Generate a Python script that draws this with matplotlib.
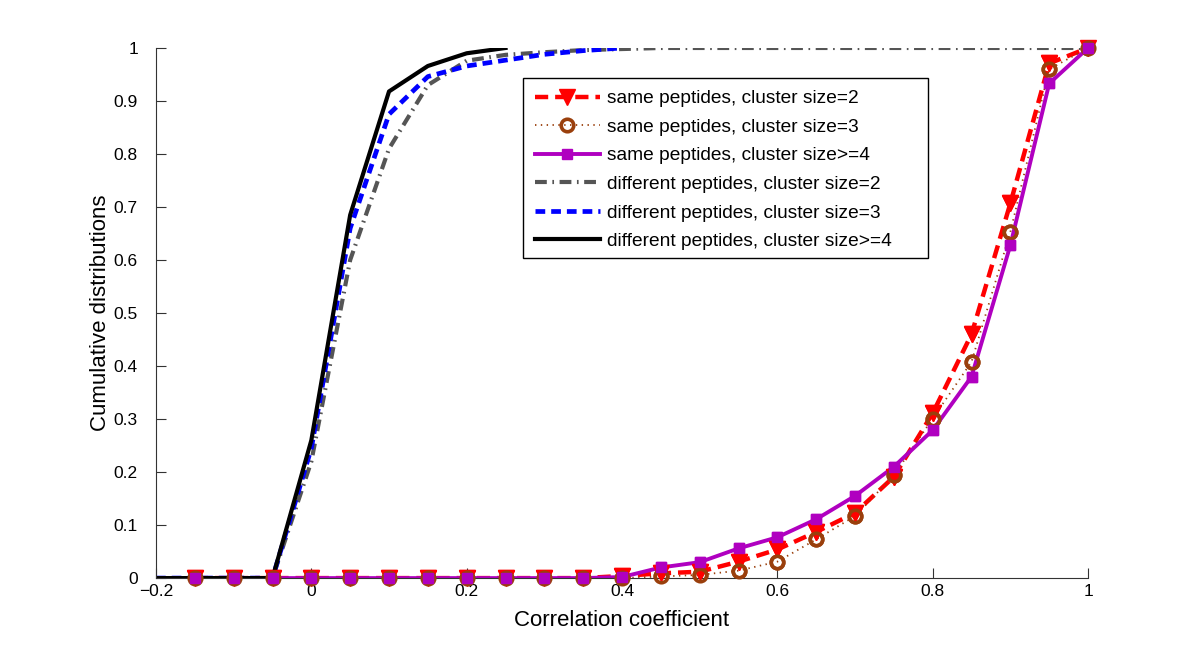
import matplotlib
matplotlib.use('Agg')
import matplotlib.pyplot as plt
from matplotlib.patches import Rectangle
import numpy as np

plt.rcParams['font.family'] = ['Liberation Sans', 'DejaVu Sans']
plt.rcParams['lines.scale_dashes'] = False

# correlation coefficient bins
x_same = [-0.15, -0.1, -0.05, 0, 0.05, 0.1, 0.15, 0.2, 0.25, 0.3, 0.35,
          0.4, 0.45, 0.5, 0.55, 0.6, 0.65, 0.7, 0.75, 0.8, 0.85, 0.9, 0.95, 1.0]

same2 = [0, 0, 0, 0, 0, 0, 0, 0, 0, 0, 0,
         0.004, 0.009, 0.012, 0.031, 0.054, 0.087, 0.123, 0.191, 0.311, 0.46, 0.707, 0.971, 1.0]
same3 = [0, 0, 0, 0, 0, 0, 0, 0, 0, 0, 0,
         0.0, 0.003, 0.006, 0.014, 0.031, 0.073, 0.117, 0.194, 0.301, 0.408, 0.653, 0.96, 1.0]
same4 = [0, 0, 0, 0, 0, 0, 0, 0, 0, 0, 0,
         0.002, 0.02, 0.03, 0.056, 0.077, 0.111, 0.155, 0.21, 0.279, 0.38, 0.628, 0.933, 1.0]

x_diff2 = [-0.2, -0.15, -0.1, -0.05, 0, 0.05, 0.1, 0.15, 0.2, 0.25, 0.3, 0.35, 0.4,
           0.45, 0.5, 0.55, 0.6, 0.65, 0.7, 0.75, 0.8, 0.85, 0.9, 0.95, 1.0]
diff2 = [0, 0, 0, 0, 0.22, 0.6, 0.81, 0.93, 0.976, 0.987, 0.992, 0.996, 0.998,
         1, 1, 1, 1, 1, 1, 1, 1, 1, 1, 1, 1]

x_diff3 = [-0.2, -0.15, -0.1, -0.05, 0, 0.05, 0.1, 0.15, 0.2, 0.25, 0.3, 0.35, 0.4]
diff3 = [0, 0, 0, 0, 0.245, 0.66, 0.875, 0.946, 0.966, 0.977, 0.988, 0.995, 1.0]

x_diff4 = [-0.2, -0.15, -0.1, -0.05, 0, 0.05, 0.1, 0.15, 0.2, 0.25]
diff4 = [0, 0, 0, 0, 0.26, 0.685, 0.918, 0.966, 0.99, 1.0]

labels = ['same peptides, cluster size=2', 'same peptides, cluster size=3',
          'same peptides, cluster size>=4', 'different peptides, cluster size=2',
          'different peptides, cluster size=3', 'different peptides, cluster size>=4']

xtick_labels = ['\u22120.2', '0', '0.2', '0.4', '0.6', '0.8', '1']
ytick_labels = ['0', '0.1', '0.2', '0.3', '0.4', '0.5', '0.6', '0.7', '0.8', '0.9', '1']

red = '#ff0000'
brown = '#9a3f0c'
mag = '#b000c0'
grey = '#555555'

fig = plt.figure(figsize=(12, 6.51), dpi=100)
ax = fig.add_axes([0.13, 0.112, 0.7767, 0.8143])

s2 = dict(color=red, lw=3.2, dashes=(9.5, 5), marker='v', ms=12, mfc=red, mec=red, mew=1)
s3 = dict(color=brown, lw=1.3, dashes=(1, 3.2), marker='o', ms=9, mfc='none', mec=brown, mew=2.6)
s4 = dict(color=mag, lw=2.8, ls='-', marker='s', ms=6.5, mfc=mag, mec=mag, mew=1)

ax.plot(x_same, same2, label=labels[0], zorder=2, **s2)
ax.plot(x_same, same3, label=labels[1], zorder=2, **s3)
ax.plot(x_same, same4, label=labels[2], zorder=2, **s4)
ax.plot(x_diff2, diff2, color=grey, lw=3, dashes=(8.5, 4, 1.2, 4), label=labels[3], zorder=2.2)
ax.plot(x_diff3, diff3, color='#0000ff', lw=3.4, dashes=(7, 4.3), label=labels[4], zorder=2.3)
ax.plot(x_diff4, diff4, color='black', lw=3, ls='-', label=labels[5], zorder=2.4)

# markers on top of the lines
for ys, st in [(same2, s2), (same3, s3), (same4, s4)]:
    ax.plot(x_same, ys, ls='none', marker=st['marker'], ms=st['ms'], mfc=st['mfc'],
            mec=st['mec'], mew=st['mew'], zorder=3, clip_on=False)

ax.set_xlim(-0.2, 1)
ax.set_ylim(0, 1)
ax.set_xticks(np.arange(-0.2, 1.01, 0.2))
ax.set_yticks(np.arange(0, 1.01, 0.1))
ax.set_xticklabels(xtick_labels)
ax.set_yticklabels(ytick_labels)
ax.tick_params(direction='in', length=7, width=0.8, labelsize=12.5, color='#333333')
ax.tick_params(axis='y', pad=13)
ax.tick_params(axis='x', pad=4)
ax.spines['top'].set_visible(False)
ax.spines['right'].set_visible(False)
ax.spines['left'].set_color('#333333')
ax.spines['bottom'].set_color('#333333')

ax.set_xlabel('Correlation coefficient', fontsize=16, labelpad=8)
ax.set_ylabel('Cumulative distributions', fontsize=16, labelpad=2)

# legend box (matlab style, wider than the entries)
ax.add_patch(Rectangle((0.3938, 0.604), 0.4345, 0.339, transform=ax.transAxes,
                       facecolor='white', edgecolor='black', lw=1, zorder=4))
leg = ax.legend(loc='upper left', bbox_to_anchor=(0.397, 0.937), fontsize=13.8,
                frameon=False, handlelength=3.4, handletextpad=0.35,
                labelspacing=0.58, borderpad=0.45, borderaxespad=0)
leg.set_zorder(5)

fig.savefig('out.png', dpi=100)
